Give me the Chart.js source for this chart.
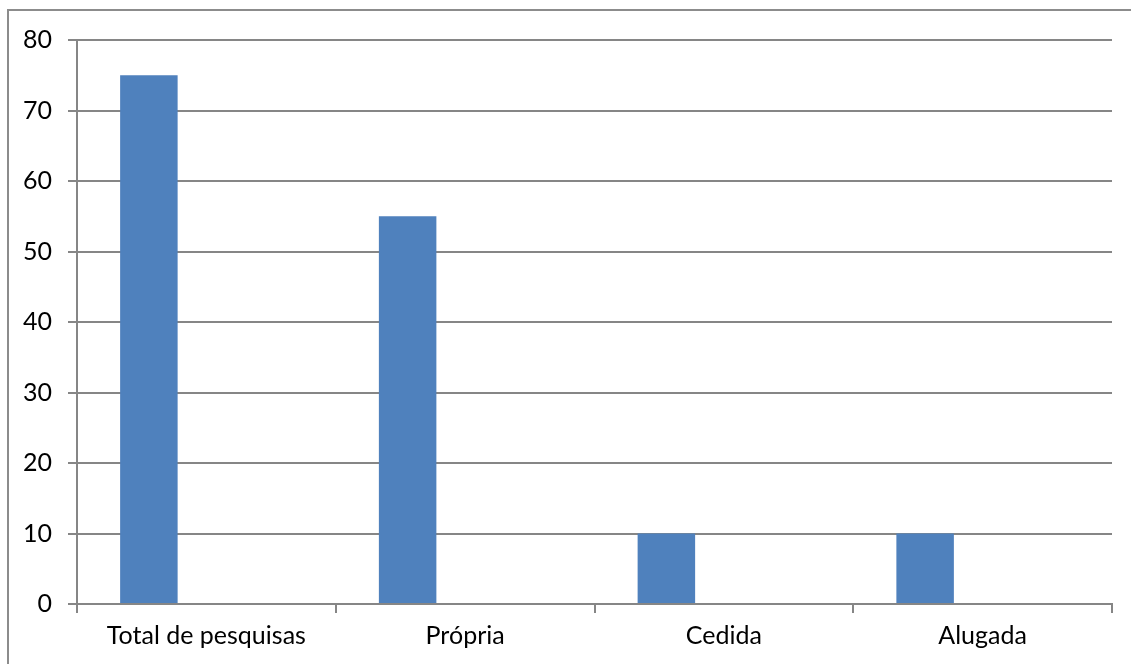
<!DOCTYPE html>
<html>
<head>
<meta charset="utf-8">
<script src="https://cdn.jsdelivr.net/npm/chart.js@4/dist/chart.umd.min.js"></script>
<style>
  html, body { margin: 0; padding: 0; background: #fff; }
  #wrap { position: relative; width: 1131px; height: 664px; }
  #frame { position: absolute; left: 7px; top: 9px; right: -2px; bottom: -2px; border-left: 2px solid #8c8c8c; border-top: 2px solid #8c8c8c; }
  canvas { position: absolute; left: 0; top: 0; }
</style>
</head>
<body>
<div id="wrap">
  <div id="frame"></div>
  <canvas id="chart" width="1131" height="664"></canvas>
</div>
<script>
var categorias = ['Total de pesquisas', 'Própria', 'Cedida', 'Alugada'];
var valores = [75, 55, 10, 10];
var yTicks = [0, 10, 20, 30, 40, 50, 60, 70, 80];

var AXIS = '#868686';
var FONT = { family: 'Lato, "Open Sans", sans-serif', size: 25 };

var ctx = document.getElementById('chart').getContext('2d');
var chart = new Chart(ctx, {
    type: 'bar',
    data: {
        labels: categorias,
        datasets: [{
            label: 'Série 1',
            backgroundColor: '#4f81bd',
            data: valores
        },
        // series 2 and 3 are empty, they only hold their slot in each group
        { label: 'Série 2', backgroundColor: '#c0504d', data: [] },
        { label: 'Série 3', backgroundColor: '#9bbb59', data: [] }]
    },
    options: {
        responsive: false,
        animation: false,
        layout: { padding: { top: 40, right: 19, left: 0, bottom: 0 } },
        plugins: { legend: { display: false }, tooltip: { enabled: false } },
        datasets: { bar: { categoryPercentage: 2 / 3, barPercentage: 1 } },
        scales: {
            x: {
                grid: { drawOnChartArea: false, color: AXIS, lineWidth: 2, tickLength: 9 },
                border: { color: AXIS, width: 2 },
                ticks: { color: '#000', font: FONT, padding: 8, maxRotation: 0 },
                afterFit: function(scale) { scale.height = 60; }
            },
            y: {
                min: 0,
                max: 80,
                afterBuildTicks: function(scale) {
                    scale.ticks = yTicks.map(function(v) { return { value: v }; });
                },
                grid: { color: AXIS, lineWidth: 2, tickLength: 9 },
                border: { color: AXIS, width: 2 },
                ticks: { color: '#000', font: FONT, padding: 16 },
                afterFit: function(scale) { scale.width = 77; }
            }
        }
    }
});
</script>
</body>
</html>
